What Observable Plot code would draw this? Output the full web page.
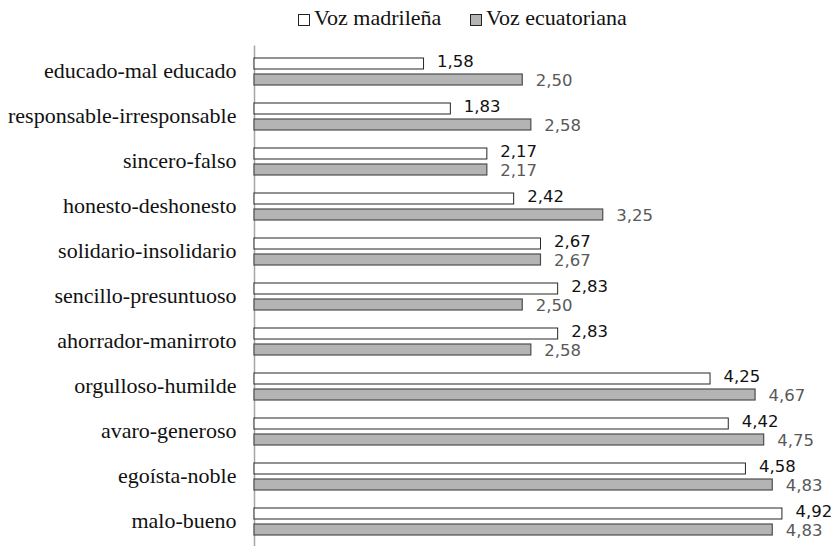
<!DOCTYPE html>
<html>
<head>
<meta charset="utf-8">
<script src="https://cdn.jsdelivr.net/npm/d3@7"></script>
<script src="https://cdn.jsdelivr.net/npm/@observablehq/plot@0.6"></script>
<style>
  html, body { margin: 0; padding: 0; background: #fff; width: 835px; height: 546px; overflow: hidden; }
  #legend { position: relative; height: 35px; font-family: "Liberation Serif", "Times New Roman", serif; font-size: 22px; color: #111; }
  .item { position: absolute; top: 5px; display: flex; align-items: center; white-space: nowrap; }
  .box { display: inline-block; width: 10px; height: 10px; border: 1px solid #222; margin-right: 4px; margin-top: 3px; }
  #chart svg { display: block; }
</style>
</head>
<body>
<div id="legend"></div>
<div id="chart"></div>
<script>
const categories = [
  "educado-mal educado",
  "responsable-irresponsable",
  "sincero-falso",
  "honesto-deshonesto",
  "solidario-insolidario",
  "sencillo-presuntuoso",
  "ahorrador-manirroto",
  "orgulloso-humilde",
  "avaro-generoso",
  "egoísta-noble",
  "malo-bueno"
];
const seriesNames = ["Voz madrileña", "Voz ecuatoriana"];
const madrilena   = [1.58, 1.83, 2.17, 2.42, 2.67, 2.83, 2.83, 4.25, 4.42, 4.58, 4.92];
const ecuatoriana = [2.50, 2.58, 2.17, 3.25, 2.67, 2.50, 2.58, 4.67, 4.75, 4.83, 4.83];

const fmt = v => d3.format(".2f")(v).replace(".", ",");
const rowsM = categories.map((c, i) => ({category: c, value: madrilena[i]}));
const rowsE = categories.map((c, i) => ({category: c, value: ecuatoriana[i]}));

// Legend
const legend = document.getElementById("legend");
const legendItems = [
  {name: seriesNames[0], fill: "#ffffff", left: 298},
  {name: seriesNames[1], fill: "#b4b4b4", left: 470}
];
for (const it of legendItems) {
  const d = document.createElement("div");
  d.className = "item";
  d.style.left = it.left + "px";
  const b = document.createElement("span");
  b.className = "box";
  b.style.background = it.fill;
  const t = document.createElement("span");
  t.textContent = it.name;
  d.appendChild(b); d.appendChild(t);
  legend.appendChild(d);
}

const insetOuter = 9, insetInner = 25;

const chart = Plot.plot({
  width: 835,
  height: 512,
  marginLeft: 254,
  marginRight: 44.5,
  marginTop: 10.5,
  marginBottom: 0.5,
  style: {background: "#fff", overflow: "visible"},
  x: {domain: [0, 5], axis: null},
  y: {domain: categories, padding: 0, label: null, tickSize: 0, tickPadding: 18},
  marks: [
    Plot.ruleX([0], {stroke: "#a6a6a6", strokeWidth: 1.5}),
    Plot.barX(rowsM, {x: "value", y: "category", fill: "#ffffff", stroke: "#262626", strokeWidth: 1,
      insetTop: insetOuter, insetBottom: insetInner}),
    Plot.barX(rowsE, {x: "value", y: "category", fill: "#b4b4b4", stroke: "#4d4d4d", strokeWidth: 1.2,
      insetTop: insetInner, insetBottom: insetOuter}),
    Plot.text(rowsM, {x: "value", y: "category", text: d => fmt(d.value), dx: 13, dy: -10,
      textAnchor: "start", fill: "#111", fontSize: 16.5, fontFamily: "DejaVu Sans"}),
    Plot.text(rowsE, {x: "value", y: "category", text: d => fmt(d.value), dx: 13, dy: 8.5,
      textAnchor: "start", fill: "#595959", fontSize: 16.5, fontFamily: "DejaVu Sans"}),
    Plot.axisY({tickSize: 0, tickPadding: 18, dy: -1.5, fontSize: 22, fontFamily: "Liberation Serif", fill: "#111", label: null})
  ]
});
document.getElementById("chart").appendChild(chart);
</script>
</body>
</html>
